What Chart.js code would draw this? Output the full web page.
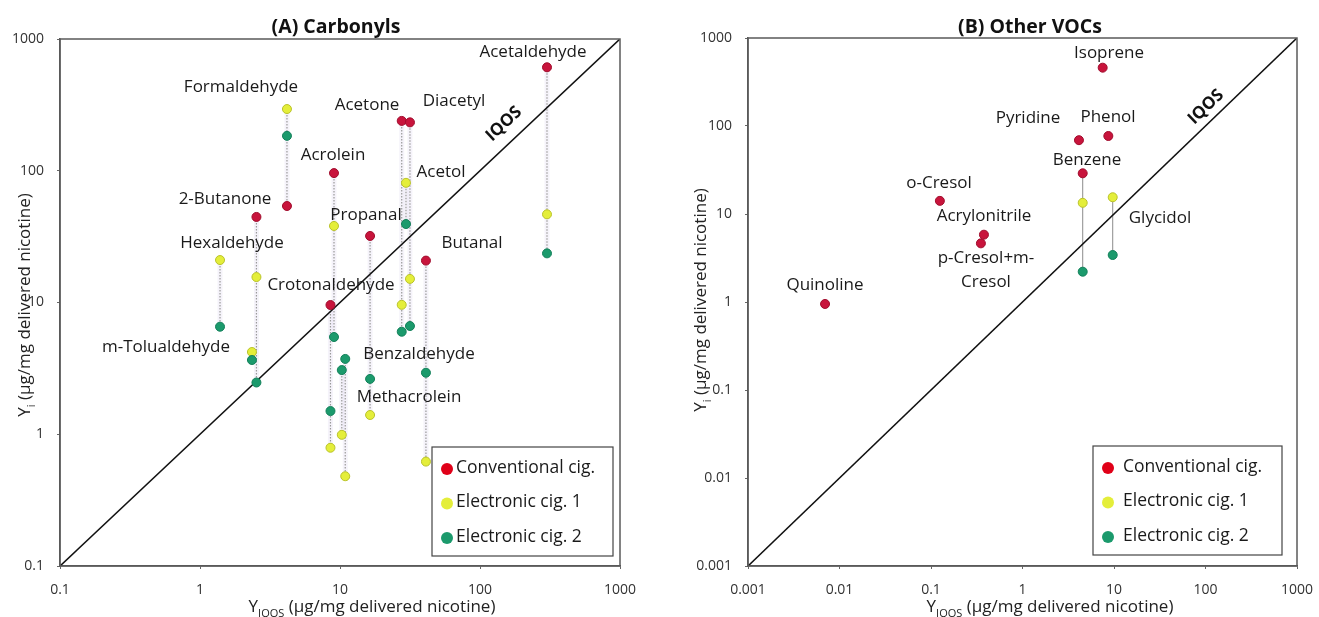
<!DOCTYPE html>
<html>
<head>
<meta charset="utf-8">
<script src="https://cdn.jsdelivr.net/npm/chart.js@4"></script>
<style>
  html, body { margin: 0; padding: 0; background: #fff; }
  .panel { position: absolute; top: 0; height: 617px; }
  #panelA { left: 0; width: 650px; }
  #panelB { left: 660px; width: 659px; }
</style>
</head>
<body>
<div class="panel" id="panelA"><canvas id="chartA"></canvas></div>
<div class="panel" id="panelB"><canvas id="chartB"></canvas></div>
<script>
/* ── Panel A: carbonyls (µg/mg delivered nicotine) ─────────────────── */
const carbonylNames = [
  "Hexaldehyde", "m-Tolualdehyde", "2-Butanone", "Formaldehyde", "Crotonaldehyde",
  "Acrolein", "Methacrolein", "Benzaldehyde", "Propanal", "Acetone",
  "Acetol", "Diacetyl", "Butanal", "Acetaldehyde"
];
const carbonylIqos  = [1.39, 2.35, 2.53, 4.18, 8.55, 9.06, 10.3, 10.9, 16.4, 27.6, 29.6, 31.6, 41.1, 301];
const carbonylConv  = [null, null, 44.6, 54, 9.57, 96, null, null, 32, 239, null, 233, 20.8, 610];
const carbonylEcig1 = [21.0, 4.21, 15.6, 294, 0.79, 38.1, 0.99, 0.48, 1.40, 9.6, 81, 15.1, 0.62, 46.7];
const carbonylEcig2 = [6.55, 3.66, 2.47, 184, 1.50, 5.47, 3.07, 3.73, 2.63, 6.0, 39.4, 6.63, 2.93, 23.6];
const carbonylTicks = [0.1, 1, 10, 100, 1000];

/* ── Panel B: other VOCs ───────────────────────────────────────────── */
const vocNames = [
  "Quinoline", "o-Cresol", "p-Cresol+m-Cresol", "Acrylonitrile", "Pyridine",
  "Benzene", "Isoprene", "Phenol", "Glycidol"
];
const vocIqos  = [0.00695, 0.125, 0.351, 0.379, 4.14, 4.55, 7.52, 8.67, 9.68];
const vocConv  = [0.95, 14.1, 4.64, 5.82, 69, 29, 460, 77, null];
const vocEcig1 = [null, null, null, null, null, 13.4, null, null, 15.5];
const vocEcig2 = [null, null, null, null, null, 2.21, null, null, 3.42];
const vocTicks = [0.001, 0.01, 0.1, 1, 10, 100, 1000];

const seriesLabels = ["Conventional cig.", "Electronic cig. 1", "Electronic cig. 2"];

/* ── Styling ───────────────────────────────────────────────────────── */
const FONT = "'Open Sans', 'DejaVu Sans', sans-serif";
const seriesFill   = ["#c8143c", "#e4ee3a", "#1b9a6c"];
const seriesBorder = ["#a00c2c", "#b9c22a", "#13805a"];
const legendFill   = ["#e00018", "#e4ee3a", "#1b9a6c"];

/* compound label placement, px from the plot area's top-left corner */
const carbonylLabelLayout = [
  { text: "Acetaldehyde",   dx: 473, dy: 13 },
  { text: "Formaldehyde",   dx: 181, dy: 48 },
  { text: "Acetone",        dx: 307, dy: 66 },
  { text: "Diacetyl",       dx: 394, dy: 62 },
  { text: "Acrolein",       dx: 273, dy: 116 },
  { text: "Acetol",         dx: 381, dy: 133 },
  { text: "2-Butanone",     dx: 165, dy: 160 },
  { text: "Propanal",       dx: 306, dy: 176 },
  { text: "Butanal",        dx: 412, dy: 204 },
  { text: "Hexaldehyde",    dx: 172, dy: 204 },
  { text: "Crotonaldehyde", dx: 271, dy: 246 },
  { text: "m-Tolualdehyde", dx: 106, dy: 308 },
  { text: "Benzaldehyde",   dx: 359, dy: 315 },
  { text: "Methacrolein",   dx: 349, dy: 358 },
];
const vocLabelLayout = [
  { text: "Isoprene",      dx: 361, dy: 15 },
  { text: "Pyridine",      dx: 280, dy: 80 },
  { text: "Phenol",        dx: 360, dy: 79 },
  { text: "Benzene",       dx: 339, dy: 122 },
  { text: "Glycidol",      dx: 412, dy: 180 },
  { text: "o-Cresol",      dx: 191, dy: 145 },
  { text: "Acrylonitrile", dx: 236, dy: 178 },
  { text: "p-Cresol+m-",   dx: 238, dy: 220 },
  { text: "Cresol",        dx: 238, dy: 244 },
  { text: "Quinoline",     dx: 77,  dy: 247 },
];

function toPoints(iqos, ys) {
  const pts = [];
  ys.forEach((y, i) => { if (y !== null) pts.push({ x: iqos[i], y: y }); });
  return pts;
}

/* draws text with a subscript part, centred on (x, y) */
function drawSubText(ctx, base, sub, rest, x, y, size) {
  const big = `${size}px ${FONT}`;
  const small = `${Math.round(size * 0.65)}px ${FONT}`;
  ctx.font = big;   const w1 = ctx.measureText(base).width;
  ctx.font = small; const w2 = ctx.measureText(sub).width;
  ctx.font = big;   const w3 = ctx.measureText(rest).width;
  let cx = x - (w1 + w2 + w3) / 2;
  ctx.textAlign = "left";
  ctx.textBaseline = "alphabetic";
  ctx.font = big;   ctx.fillText(base, cx, y); cx += w1;
  ctx.font = small; ctx.fillText(sub, cx, y + size * 0.28); cx += w2;
  ctx.font = big;   ctx.fillText(rest, cx, y);
}

function buildPanel(canvasId, p) {
  const overlay = {
    id: "overlay-" + canvasId,
    beforeDatasetsDraw(chart) {
      const { ctx, scales: { x, y } } = chart;
      ctx.save();
      p.iqos.forEach((xv, i) => {
        const vals = [p.conv[i], p.ecig1[i], p.ecig2[i]].filter((v) => v !== null);
        if (vals.length < 2) return;
        const px = x.getPixelForValue(xv);
        const y0 = y.getPixelForValue(Math.max(...vals));
        const y1 = y.getPixelForValue(Math.min(...vals));
        if (p.dotted) {
          ctx.strokeStyle = "rgba(190,180,225,0.16)";
          ctx.lineWidth = 5;
          ctx.setLineDash([]);
          ctx.beginPath(); ctx.moveTo(px, y0); ctx.lineTo(px, y1); ctx.stroke();
          ctx.strokeStyle = "#9a9a9a";
          ctx.lineWidth = 1.2;
          ctx.setLineDash([1.5, 1.5]);
        } else {
          ctx.strokeStyle = "#8c8c8c";
          ctx.lineWidth = 1;
          ctx.setLineDash([]);
        }
        ctx.beginPath(); ctx.moveTo(px, y0); ctx.lineTo(px, y1); ctx.stroke();
      });
      ctx.restore();
    },
    afterDatasetsDraw(chart) {
      const { ctx, chartArea: a } = chart;
      ctx.save();
      // frame
      ctx.strokeStyle = "#5a5a5a";
      ctx.lineWidth = 1.5;
      ctx.strokeRect(a.left, a.top, a.right - a.left, a.bottom - a.top);

      // compound labels
      ctx.fillStyle = "#1a1a1a";
      ctx.font = `17px ${FONT}`;
      ctx.textAlign = "center";
      ctx.textBaseline = "middle";
      p.labels.forEach((l) => ctx.fillText(l.text, a.left + l.dx, a.top + l.dy));

      // IQOS along the diagonal
      const ang = Math.atan2(a.bottom - a.top, a.right - a.left);
      ctx.save();
      ctx.translate(p.iqosAt[0], p.iqosAt[1]);
      ctx.rotate(-ang);
      ctx.font = `bold 17px ${FONT}`;
      ctx.fillStyle = "#111";
      ctx.fillText("IQOS", 0, 0);
      ctx.restore();

      // legend box
      const bx = a.right - p.legend.inset[0] - p.legend.w;
      const by = a.bottom - p.legend.inset[1] - p.legend.h;
      ctx.fillStyle = "#fff";
      ctx.fillRect(bx, by, p.legend.w, p.legend.h);
      ctx.strokeStyle = "#444";
      ctx.lineWidth = 1.2;
      ctx.strokeRect(bx, by, p.legend.w, p.legend.h);
      ctx.font = `17.5px ${FONT}`;
      ctx.textAlign = "left";
      seriesLabels.forEach((lab, k) => {
        const ry = by + 21 + k * 34.5;
        ctx.beginPath();
        ctx.arc(bx + 15, ry + 1, 6, 0, Math.PI * 2);
        ctx.fillStyle = legendFill[k];
        ctx.fill();
        ctx.fillStyle = "#1a1a1a";
        ctx.fillText(lab, bx + p.legend.textX, ry);
      });

      // titles
      ctx.fillStyle = "#111";
      ctx.font = `bold 19.5px ${FONT}`;
      ctx.textAlign = "center";
      ctx.textBaseline = "alphabetic";
      ctx.fillText(p.title, p.titleX, 33);

      ctx.fillStyle = "#222";
      drawSubText(ctx, "Y", "IQOS", " (µg/mg delivered nicotine)", p.xTitleX, 612, 17);
      ctx.save();
      ctx.translate(p.yTitleX, p.yTitleY);
      ctx.rotate(-Math.PI / 2);
      drawSubText(ctx, "Y", "i", " (µg/mg delivered nicotine)", 0, 6, 17);
      ctx.restore();
      ctx.restore();
    },
  };

  const lo = p.ticks[0], hi = p.ticks[p.ticks.length - 1];
  const axis = (isX) => ({
    type: "logarithmic",
    min: lo,
    max: hi,
    afterBuildTicks: (s) => { s.ticks = p.ticks.map((v) => ({ value: v })); },
    afterFit: (s) => {
      if (isX) { s.height = 51; s.paddingLeft = 0; s.paddingRight = 0; }
      else     { s.width = p.yAxisW; s.paddingTop = 0; s.paddingBottom = 0; }
    },
    grid: { drawOnChartArea: false, drawTicks: true, tickLength: 3, color: "#666" },
    border: { display: true, color: "#5a5a5a", width: 1.5 },
    ticks: {
      color: "#333",
      font: { family: FONT, size: 14 },
      padding: 13,
      maxRotation: 0,
      autoSkip: false,
      callback: (v) => String(v),
    },
  });

  const pointSet = (k, ys) => ({
    type: "scatter",
    label: seriesLabels[k],
    data: toPoints(p.iqos, ys),
    backgroundColor: seriesFill[k],
    borderColor: seriesBorder[k],
    borderWidth: 1,
    pointRadius: 4.5,
  });

  return new Chart(document.getElementById(canvasId), {
    type: "scatter",
    data: {
      datasets: [
        pointSet(2, p.ecig2),
        pointSet(1, p.ecig1),
        pointSet(0, p.conv),
        {
          type: "line",
          label: "IQOS",
          data: [{ x: lo, y: lo }, { x: hi, y: hi }],
          borderColor: "#111",
          borderWidth: 1.6,
          pointRadius: 0,
          order: 10,
        },
      ],
    },
    options: {
      responsive: true,
      maintainAspectRatio: false,
      animation: false,
      layout: { padding: { top: p.padTop, right: p.padRight, left: 0, bottom: 0 } },
      plugins: { legend: { display: false }, tooltip: { enabled: false } },
      scales: { x: axis(true), y: axis(false) },
    },
    plugins: [overlay],
  });
}

buildPanel("chartA", {
  iqos: carbonylIqos, conv: carbonylConv, ecig1: carbonylEcig1, ecig2: carbonylEcig2,
  ticks: carbonylTicks, labels: carbonylLabelLayout, dotted: true,
  padTop: 39, padRight: 30, yAxisW: 60,
  title: "(A) Carbonyls", titleX: 336,
  xTitleX: 372, yTitleX: 24, yTitleY: 305,
  iqosAt: [504, 124],
  legend: { w: 181, h: 109, inset: [7, 10], textX: 24 },
});

buildPanel("chartB", {
  iqos: vocIqos, conv: vocConv, ecig1: vocEcig1, ecig2: vocEcig2,
  ticks: vocTicks, labels: vocLabelLayout, dotted: false,
  padTop: 38, padRight: 22, yAxisW: 88,
  title: "(B) Other VOCs", titleX: 370,
  xTitleX: 390, yTitleX: 40, yTitleY: 300,
  iqosAt: [546, 107],
  legend: { w: 189, h: 109, inset: [15, 11], textX: 30 },
});
</script>
</body>
</html>
